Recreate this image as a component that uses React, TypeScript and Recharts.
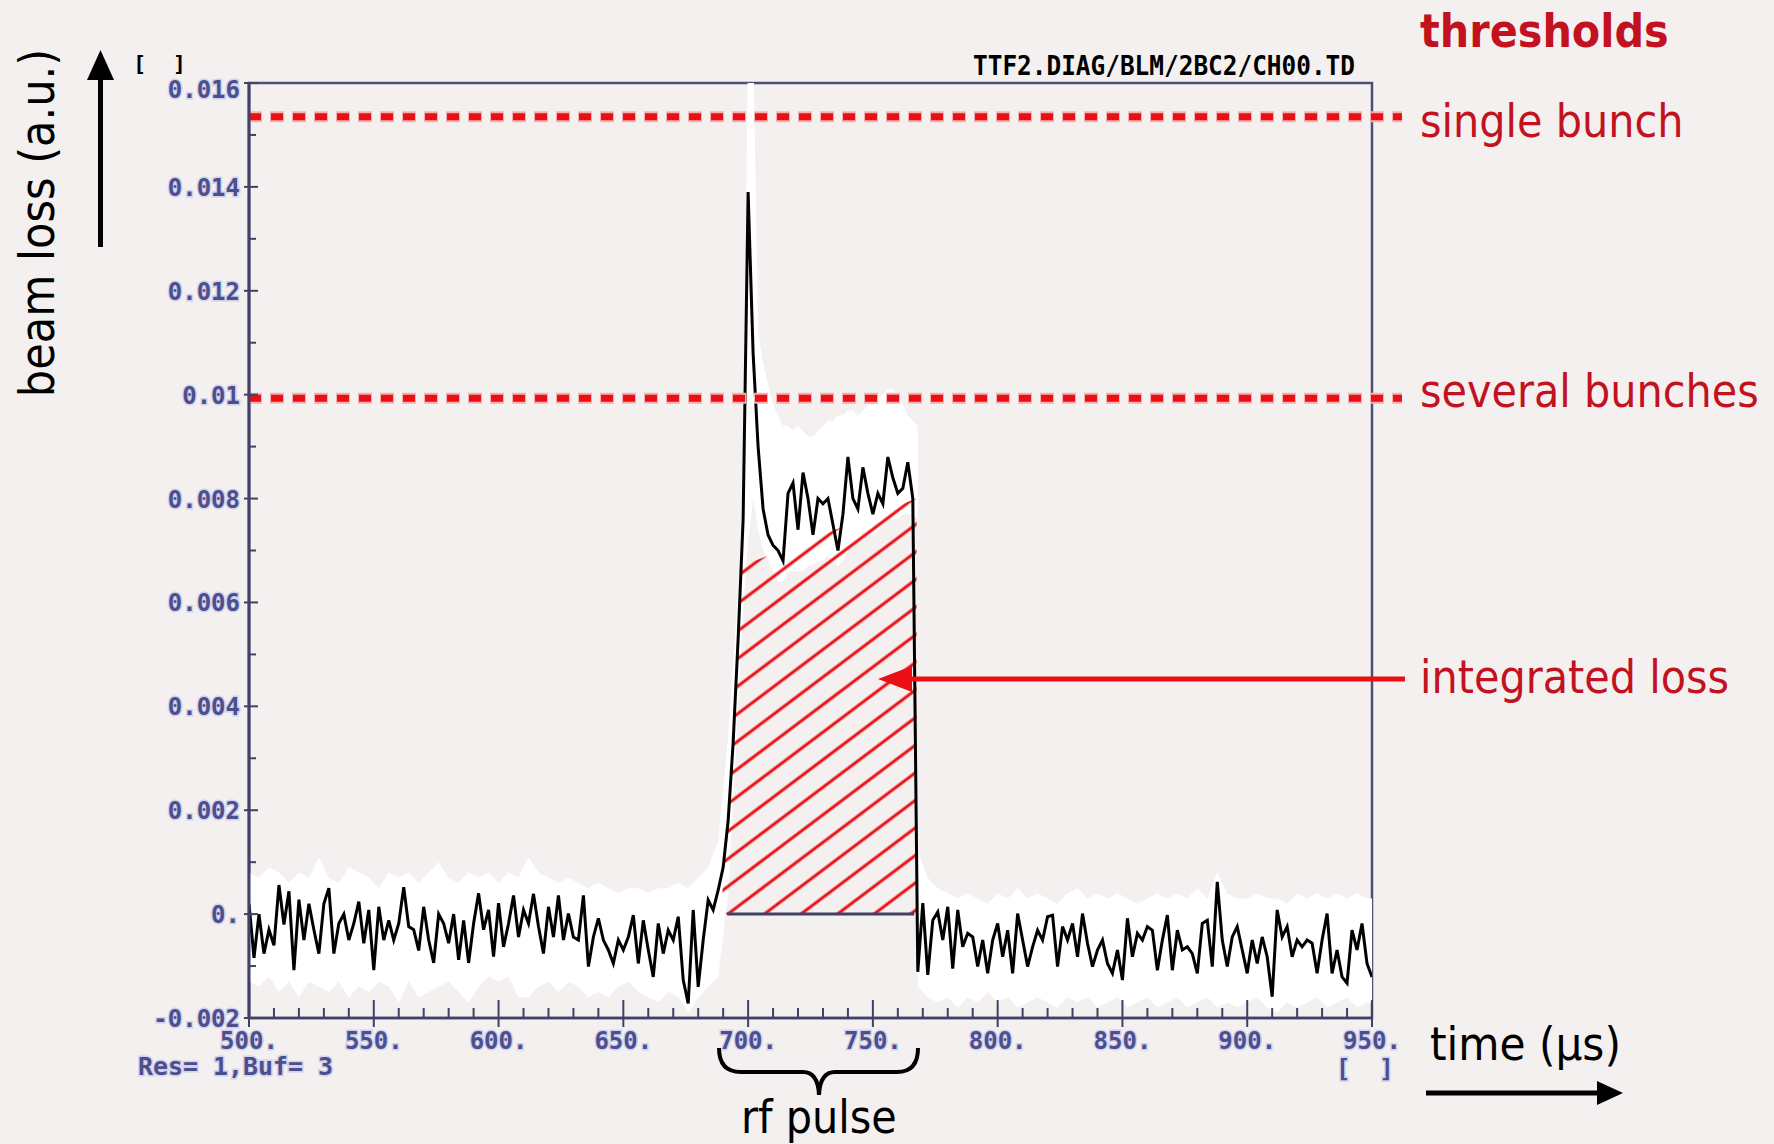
import React from 'react';
import { ComposedChart, Area, Line, XAxis, YAxis, ReferenceLine, ReferenceArea } from 'recharts';

// beam loss in units of 1e-4 a.u., one sample every 2 µs starting at 500 µs
const lossBeforePulse = [
  2.0, -8.4, 0.0, -7.6, -3.0, -6.0, 5.6, -2.0, 4.4, -10.8, 2.8, -5.0, 2.0, -3.0, -7.6, 2.0, 5.0, -7.6, -1.8, 0.0,
  -5.0, -1.8, 2.4, -5.6, 0.8, -10.8, 1.4, -5.0, -1.2, -5.0, -1.8, 5.2, -2.4, -3.0, -7.0, 1.4, -5.0, -9.4, 0.0, -1.8,
  -5.6, 0.0, -8.8, -1.2, -9.4, -1.8, 4.0, -3.0, 0.8,
  -8.2, 2.1, -6.3, -1.8, 3.6, -4.4, 0.8, -1.8, 3.9, -2.4, -7.6, 1.4, -4.4, 3.6, -5.0, 0.1, -4.4, -5.0, 3.6, -10.1,
  -4.4, -0.8, -5.0, -6.9, -9.5, -5.0, -6.9, -4.4, -0.2, -9.5, -1.2, -6.9, -12.1, -1.8, -7.6, -3.1, -5.0, -0.5, -12.7, -17.2,
  0.8, -14.0, -5.0, 2.7, 0.8, 4.6, 9.0,
];
const lossDuringPulse = [
  18, 33, 53, 76, 139, 108, 90, 78, 73, 71, 70, 68, 81, 83, 74, 85, 80, 73, 80, 79,
  80, 75, 70, 77, 88, 80, 78, 86, 81, 77, 81, 79, 88, 84, 81, 82, 87, 80,
];
const lossAfterPulse = [
  -11.1, 2.1, -11.7, -1.2, 0.4, -5.0, 1.4, -10.5, 0.8, -6.3, -3.7, -4.4, -10.1, -5.0, -11.4, -5.0, -1.8, -8.2, -3.1, -11.4,
  0.1, -5.0, -10.1, -6.3, -3.1, -5.0, -0.5, -0.2, -10.1, -2.4, -5.0, -1.8, -8.2, 0.1, -5.6, -10.1, -6.9, -5.0, -9.5, -11.4,
  -6.9, -12.7, -0.8, -8.2, -3.7, -5.0, -2.4, -3.1, -10.8,
  -5.0, -0.2, -10.8, -3.1, -6.9, -6.3, -7.6, -11.4, -1.8, -1.2, -10.1, 6.2, -5.0, -10.1, -4.4, -2.4, -6.9, -11.4, -5.0, -9.5,
  -4.4, -8.2, -15.9, 0.8, -4.4, -2.4, -8.2, -5.0, -6.3, -5.0, -5.6, -11.4, -5.0, 0.1, -11.4, -6.9, -12.1, -13.3, -3.1, -6.9,
  -1.8, -9.5, -12.1,
];
const TRACE_START = 500;
const TRACE_STEP = 2;

// envelope of the previous buffers (white band)
const envBeforeStart = 500; // every 4 µs
const envBeforeHigh = [
  8, 7, 9, 8, 6, 8, 7, 11, 7, 6, 9, 8, 7, 5, 8, 7, 8, 6, 8, 10, 7, 6, 8, 7, 8,
  6, 8, 7, 11, 8, 7, 6, 7, 6, 5, 6, 5, 4, 5, 5, 4, 5, 5, 6, 5, 7, 9, 14, 34, 62,
];
const envBeforeLow = [
  -13, -14, -12, -15, -13, -16, -13, -14, -15, -13, -16, -14, -15, -13, -14, -17, -13, -16, -15, -14, -13, -15, -17, -14, -12,
  -13, -12, -16, -16, -14, -13, -15, -13, -14, -16, -15, -16, -14, -13, -15, -16, -17, -15, -16, -19, -16, -14, -12, 4, 40,
];
const envPulseStart = 696; // every 2 µs
const envPulseHigh = [
  62, 84, 170, 170, 112, 106, 102, 98, 96, 94, 94, 93, 94, 93, 92, 92, 93, 94, 95,
  95, 96, 96, 97, 97, 96, 97, 98, 98, 99, 100, 101, 101, 100, 98, 96, 95, 94,
];
const envPulseLow = [
  40, 58, 72, 80, 74, 70, 68, 66, 64, 64, 66, 66, 66, 66, 67, 67, 68, 68, 69,
  68, 67, 68, 70, 71, 72, 72, 73, 73, 74, 75, 76, 76, 76, 77, 77, 77, 76,
];
const envAfterStart = 768; // every 4 µs
const envAfterHigh = [
  12, 7, 5, 4, 3, 4, 3, 2, 4, 3, 5, 3, 4, 3, 2, 4, 5, 3, 4, 3, 4, 3, 2, 3,
  4, 3, 4, 3, 5, 3, 8, 4, 3, 3, 4, 3, 3, 2, 4, 3, 4, 3, 4, 3, 4, 3, 3,
];
const envAfterLow = [
  -14, -16, -17, -16, -18, -16, -17, -15, -17, -16, -18, -17, -16, -17, -18, -16, -17, -16, -18, -17, -16, -18, -17, -16,
  -18, -17, -16, -18, -17, -16, -18, -17, -18, -17, -16, -18, -19, -17, -18, -17, -16, -18, -17, -16, -18, -17, -17,
];

// hand drawn integration area (upper edge)
const integratedTimes = [689, 692, 694, 696, 697.2, 767.5];
const integratedTop = [0, 18, 33, 53, 67, 80];
const zeroSegment = [691.5, 766.5];

const thresholds = [
  { name: 'single bunch', level: 153.5 },
  { name: 'several bunches', level: 99.3 },
];
const THRESHOLD_END = 962;

const xMajorTicks = [500, 550, 600, 650, 700, 750, 800, 850, 900, 950];
const xTickLabels = ['500.', '550.', '600.', '650.', '700.', '750.', '800.', '850.', '900.', '950.'];
const xAllTicks = [
  500, 510, 520, 530, 540, 550, 560, 570, 580, 590, 600, 610, 620, 630, 640, 650, 660, 670, 680, 690, 700, 710, 720,
  730, 740, 750, 760, 770, 780, 790, 800, 810, 820, 830, 840, 850, 860, 870, 880, 890, 900, 910, 920, 930, 940, 950,
];
const yMajorTicks = [-20, 0, 20, 40, 60, 80, 100, 120, 140, 160];
const yTickLabels = ['-0.002', '0.', '0.002', '0.004', '0.006', '0.008', '0.01', '0.012', '0.014', '0.016'];
const yAllTicks = [-20, -10, 0, 10, 20, 30, 40, 50, 60, 70, 80, 90, 100, 110, 120, 130, 140, 150, 160];

const BG = '#f3f0ef';
const NAVY = '#3f4169';
const TICK_TEXT = '#4c4f8c';
const RED_TEXT = '#c3121f';
const RED = '#ea0f14';
const LABEL_FONT = "'DejaVu Sans Condensed', 'DejaVu Sans', sans-serif";
const MONO = "'DejaVu Sans Mono', monospace";

const trace = [...lossBeforePulse, ...lossDuringPulse, ...lossAfterPulse].map((v, i) => ({
  t: TRACE_START + i * TRACE_STEP,
  v,
}));
const toBand = (start: number, step: number, high: number[], low: number[]) =>
  high.map((h, i) => ({ t: start + i * step, band: [low[i], h] }));
const bandBefore = toBand(envBeforeStart, 4, envBeforeHigh, envBeforeLow);
const bandPulse = toBand(envPulseStart, 2, envPulseHigh, envPulseLow);
const bandAfter = toBand(envAfterStart, 4, envAfterHigh, envAfterLow);
const integrated = integratedTimes.map((t, i) => ({ t, v: integratedTop[i] }));
const zeroLine = zeroSegment.map((t) => ({ t, v: 0 }));

const tickTextStyle = {
  fontFamily: MONO,
  fontWeight: 700,
  fontSize: 24,
  fill: TICK_TEXT,
  stroke: '#d2d2ee',
  strokeWidth: 3,
  paintOrder: 'stroke' as const,
};

const XTick = (props: any) => {
  const { x, y, payload } = props;
  const idx = xMajorTicks.indexOf(payload.value);
  const major = idx >= 0;
  return (
    <g>
      <line x1={x} x2={x} y1={y - (major ? 18 : 10)} y2={y + (major ? 9 : 0)} stroke={NAVY} strokeWidth={2} />
      {major && (
        <text x={x} y={y + 31} textAnchor="middle" style={tickTextStyle}>
          {xTickLabels[idx]}
        </text>
      )}
    </g>
  );
};

const YTick = (props: any) => {
  const { x, y, payload } = props;
  const idx = yMajorTicks.indexOf(payload.value);
  const major = idx >= 0;
  // the top label sits a little below its tick in the original
  const dy = payload.value === 160 ? 15 : 9;
  return (
    <g>
      <line x1={x - (major ? 5 : 0)} x2={x + (major ? 9 : 7)} y1={y} y2={y} stroke={NAVY} strokeWidth={2} />
      {major && (
        <text x={x - 9} y={y + dy} textAnchor="end" style={tickTextStyle}>
          {yTickLabels[idx]}
        </text>
      )}
    </g>
  );
};

const redLabel = { fontFamily: LABEL_FONT, fontStretch: 'condensed', fontSize: 46, fill: RED_TEXT };
const blackLabel = { fontFamily: LABEL_FONT, fontStretch: 'condensed', fontSize: 46, fill: '#000' };

const Annotations = () => (
  <svg width={1774} height={1144} style={{ position: 'absolute', left: 0, top: 0, pointerEvents: 'none' }}>
    {/* y axis title and arrow */}
    <text x={0} y={0} transform="translate(54 223) rotate(-90)" textAnchor="middle" style={{ ...blackLabel, fontSize: 48 }}>
      beam loss (a.u.)
    </text>
    <line x1={100.5} x2={100.5} y1={247} y2={76} stroke="#000" strokeWidth={5} />
    <polygon points="87,80 100.5,50 114,80" fill="#000" />
    <text x={133} y={71} style={{ fontFamily: MONO, fontWeight: 700, fontSize: 22, fill: '#000' }}>
      {'[\u00a0\u00a0]'}
    </text>
    <text
      x={973}
      y={75}
      textLength={382}
      lengthAdjust="spacingAndGlyphs"
      style={{ fontFamily: MONO, fontWeight: 700, fontSize: 26, fill: '#000' }}
    >
      TTF2.DIAG/BLM/2BC2/CH00.TD
    </text>
    <text x={138} y={1075} textLength={195} lengthAdjust="spacingAndGlyphs" style={tickTextStyle}>
      {'Res=\u00a01,Buf=\u00a03'}
    </text>
    <text x={1336} y={1077} style={tickTextStyle}>
      {'[\u00a0\u00a0]'}
    </text>

    {/* threshold labels */}
    <text x={1420} y={47} style={{ ...redLabel, fontWeight: 700 }}>thresholds</text>
    <text x={1420} y={137} style={redLabel}>{thresholds[0].name}</text>
    <text x={1420} y={407} style={redLabel}>{thresholds[1].name}</text>

    {/* integrated loss arrow */}
    <text x={1420} y={693} style={redLabel}>integrated loss</text>
    <line x1={1405} x2={905} y1={679} y2={679} stroke={RED} strokeWidth={5} />
    <polygon points="878,679 912,666 912,692" fill={RED} />

    {/* x axis title and arrow */}
    <text x={1430} y={1060} style={{ ...blackLabel, fontSize: 47 }}>time (µs)</text>
    <line x1={1426} x2={1600} y1={1093} y2={1093} stroke="#000" strokeWidth={5} />
    <polygon points="1597,1081 1623,1093 1597,1105" fill="#000" />

    {/* rf pulse brace */}
    <path
      d="M 719 1048 Q 719 1072 741 1072 L 803 1072 Q 818 1072 819 1095 Q 820 1072 835 1072 L 897 1072 Q 918 1072 918 1048"
      fill="none"
      stroke="#000"
      strokeWidth={4}
    />
    <text x={741} y={1133} style={blackLabel}>rf pulse</text>
  </svg>
);

export default function App() {
  return (
    <div style={{ position: 'absolute', left: 0, top: 0, width: 1774, height: 1144, background: BG }}>
      <ComposedChart width={1774} height={1144} margin={{ top: 83, right: 402, bottom: 0, left: 0 }}>
        <defs>
          <pattern id="hatch" width={22} height={22} patternUnits="userSpaceOnUse" patternTransform="rotate(53)">
            <line x1={2} y1={0} x2={2} y2={22} stroke={RED} strokeWidth={3} />
          </pattern>
        </defs>
        <XAxis
          type="number"
          dataKey="t"
          domain={[500, 950]}
          ticks={xAllTicks}
          interval={0}
          allowDataOverflow
          height={126}
          tickSize={0}
          tickMargin={0}
          tickLine={false}
          tick={(p: any) => <XTick {...p} />}
          axisLine={{ stroke: NAVY, strokeWidth: 2.5 }}
        />
        <YAxis
          type="number"
          domain={[-20, 160]}
          ticks={yAllTicks}
          interval={0}
          allowDataOverflow
          width={249}
          tickSize={0}
          tickMargin={0}
          tickLine={false}
          tick={(p: any) => <YTick {...p} />}
          axisLine={{ stroke: NAVY, strokeWidth: 3 }}
        />
        <ReferenceArea x1={500} x2={950} y1={-20} y2={160} fill="none" stroke="#4d4f74" strokeWidth={2.5} ifOverflow="visible" />
        <Area data={bandBefore} dataKey="band" type="linear" fill="#ffffff" fillOpacity={1} stroke="none" dot={false} activeDot={false} isAnimationActive={false} />
        <Area data={bandPulse} dataKey="band" type="linear" fill="#ffffff" fillOpacity={1} stroke="none" dot={false} activeDot={false} isAnimationActive={false} />
        <Area data={bandAfter} dataKey="band" type="linear" fill="#ffffff" fillOpacity={1} stroke="none" dot={false} activeDot={false} isAnimationActive={false} />
        <Area data={integrated} dataKey="v" type="linear" fill="url(#hatch)" fillOpacity={1} stroke="none" dot={false} activeDot={false} isAnimationActive={false} />
        <Line data={zeroLine} dataKey="v" type="linear" stroke={NAVY} strokeWidth={3} dot={false} activeDot={false} isAnimationActive={false} />
        <Line data={trace} dataKey="v" type="linear" stroke="#000" strokeWidth={3} dot={false} activeDot={false} isAnimationActive={false} />
        {thresholds.map((th) => (
          <ReferenceLine
            key={th.name + '-halo'}
            segment={[{ x: 500, y: th.level }, { x: THRESHOLD_END, y: th.level }]}
            stroke="#f3b3b3"
            strokeWidth={11}
            strokeDasharray="14 8"
            strokeDashoffset={1}
            ifOverflow="visible"
          />
        ))}
        {thresholds.map((th) => (
          <ReferenceLine
            key={th.name}
            segment={[{ x: 500, y: th.level }, { x: THRESHOLD_END, y: th.level }]}
            stroke={RED}
            strokeWidth={7}
            strokeDasharray="12 10"
            ifOverflow="visible"
          />
        ))}
      </ComposedChart>
      <Annotations />
    </div>
  );
}
